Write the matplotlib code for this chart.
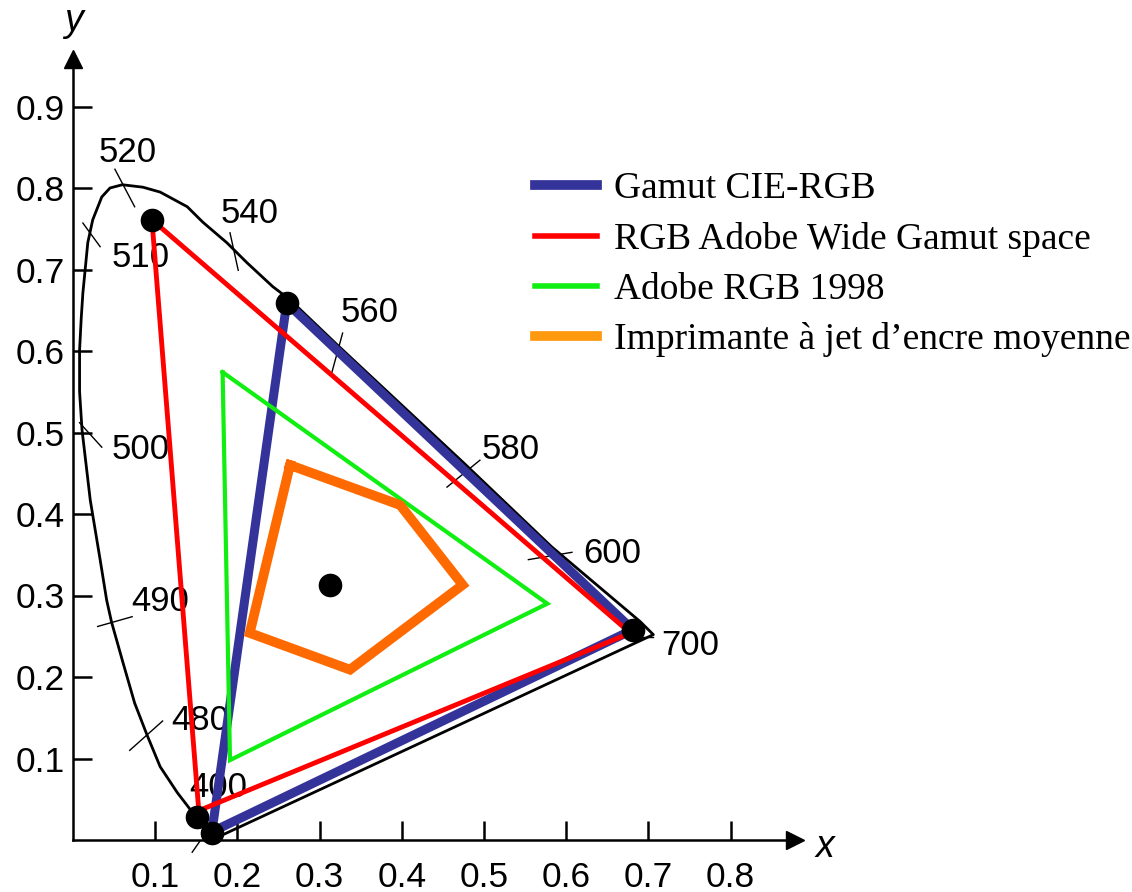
import matplotlib.pyplot as plt
from matplotlib.lines import Line2D

# spectral locus (CIE x, y), closed by the purple line
locus_x = [0.169, 0.158, 0.146, 0.127, 0.106, 0.090, 0.075, 0.061, 0.047, 0.041, 0.033,
           0.021, 0.011, 0.008, 0.008, 0.010, 0.012, 0.018, 0.024, 0.035, 0.045, 0.060,
           0.085, 0.106, 0.139, 0.158, 0.187, 0.212, 0.243, 0.260, 0.268,
           0.323, 0.476, 0.582, 0.690, 0.706, 0.175]
locus_y = [0.009, 0.020, 0.033, 0.058, 0.090, 0.129, 0.168, 0.217, 0.267, 0.294, 0.344,
           0.417, 0.503, 0.550, 0.601, 0.640, 0.671, 0.733, 0.761, 0.789, 0.800, 0.804,
           0.801, 0.795, 0.777, 0.758, 0.733, 0.708, 0.679, 0.666, 0.659,
           0.606, 0.462, 0.360, 0.268, 0.252, 0.003]

# wavelength marks: label, label position, tick segment
wl_labels = ['520', '540', '510', '560', '500', '580', '600', '490', '700', '480', '400']
wl_lx = [0.067, 0.215, 0.082, 0.361, 0.082, 0.532, 0.656, 0.106, 0.751, 0.155, 0.177]
wl_ly = [0.844, 0.769, 0.715, 0.647, 0.479, 0.479, 0.352, 0.293, 0.239, 0.147, 0.064]
wl_tx = [(0.051, 0.075), (0.191, 0.201), (0.012, 0.033), (0.328, 0.315), (0.008, 0.035),
         (0.455, 0.495), (0.554, 0.607), (0.030, 0.072), (0.690, 0.706), (0.069, 0.109),
         (0.145, 0.154)]
wl_ty = [(0.823, 0.777), (0.745, 0.699), (0.757, 0.728), (0.622, 0.574), (0.512, 0.482),
         (0.433, 0.466), (0.344, 0.353), (0.262, 0.274), (0.249, 0.249), (0.110, 0.146),
         (-0.015, -0.002)]

# gamuts (closed polygons)
cie_x = [0.260, 0.681, 0.169, 0.260]
cie_y = [0.659, 0.258, 0.010, 0.659]
wide_x = [0.096, 0.678, 0.153, 0.096]
wide_y = [0.761, 0.254, 0.036, 0.761]
adobe_x = [0.182, 0.577, 0.191, 0.182]
adobe_y = [0.574, 0.290, 0.098, 0.574]
ink_x = [0.264, 0.398, 0.474, 0.337, 0.215, 0.264]
ink_y = [0.460, 0.411, 0.313, 0.209, 0.254, 0.460]

# primaries and white point
dot_x = [0.260, 0.096, 0.681, 0.151, 0.169, 0.313]
dot_y = [0.659, 0.761, 0.258, 0.028, 0.009, 0.313]

names = ['Gamut CIE-RGB', 'RGB Adobe Wide Gamut space', 'Adobe RGB 1998',
         'Imprimante à jet d\u2019encre moyenne']

sans = 'Liberation Sans'
serif = 'Liberation Serif'

fig = plt.figure(figsize=(11.32, 8.92), dpi=100)
ax = fig.add_axes([0, 0, 1, 1])
ax.set_xlim(-73 / 822, 1059 / 822)
ax.set_ylim(-52 / 815, 840 / 815)

ax.plot(locus_x, locus_y, color='black', lw=2.0, zorder=2)
for lx, ly, tx, ty, lab in zip(wl_lx, wl_ly, wl_tx, wl_ty, wl_labels):
    ax.plot(tx, ty, color='black', lw=1.0, clip_on=False, zorder=2)
    ax.text(lx, ly, lab, fontsize=25, family=sans, ha='center', va='center')

ax.plot(cie_x, cie_y, color='#333399', lw=6.5, solid_joinstyle='miter', zorder=3)
ax.plot(wide_x, wide_y, color='#ff0000', lw=3.5, solid_joinstyle='miter', zorder=4)
ax.plot(adobe_x, adobe_y, color='#11ee11', lw=3.0, solid_joinstyle='miter', zorder=4)
ax.plot(ink_x, ink_y, color='#ff6a00', lw=7.0, solid_joinstyle='miter', zorder=4)
ax.plot(dot_x, dot_y, 'o', color='black', ms=16, zorder=5, clip_on=False)

# axes with arrows
for side in ['top', 'right']:
    ax.spines[side].set_visible(False)
ax.spines['left'].set_position(('data', 0))
ax.spines['bottom'].set_position(('data', 0))
ax.spines['left'].set_bounds(0, 0.955)
ax.spines['bottom'].set_bounds(0, 0.875)
ax.spines['left'].set_linewidth(1.8)
ax.spines['bottom'].set_linewidth(1.8)
ax.plot([0], [0.958], marker='^', ms=13, color='black', clip_on=False)
ax.plot([0.878], [0], marker='>', ms=13, color='black', clip_on=False)

ax.set_xticks([0.1, 0.2, 0.3, 0.4, 0.5, 0.6, 0.7, 0.8])
ax.set_yticks([0.1, 0.2, 0.3, 0.4, 0.5, 0.6, 0.7, 0.8, 0.9])
ax.tick_params(direction='in', length=14, width=1.8, labelsize=25.5)
ax.tick_params(axis='x', pad=15)
ax.tick_params(axis='y', pad=6)
for t in ax.get_xticklabels() + ax.get_yticklabels():
    t.set_family(sans)

ax.text(0.915, -0.008, 'x', fontsize=27, family=sans, style='italic', ha='center', va='center')
ax.text(0.0, 1.005, 'y', fontsize=27, family=sans, style='italic', ha='center', va='center')

handles = [Line2D([], [], color='#333399', lw=7),
           Line2D([], [], color='#ff0000', lw=4),
           Line2D([], [], color='#11ee11', lw=4),
           Line2D([], [], color='#ff9a10', lw=7)]
ax.legend(handles, names, loc='upper left', bbox_to_anchor=(535 / 1132, 1 - 172 / 892),
          bbox_transform=fig.transFigure, frameon=False, borderpad=0, borderaxespad=0,
          handlelength=1.65, handletextpad=0.45, labelspacing=0.41,
          prop={'family': serif, 'size': 27})

fig.savefig('out.png', dpi=100)
